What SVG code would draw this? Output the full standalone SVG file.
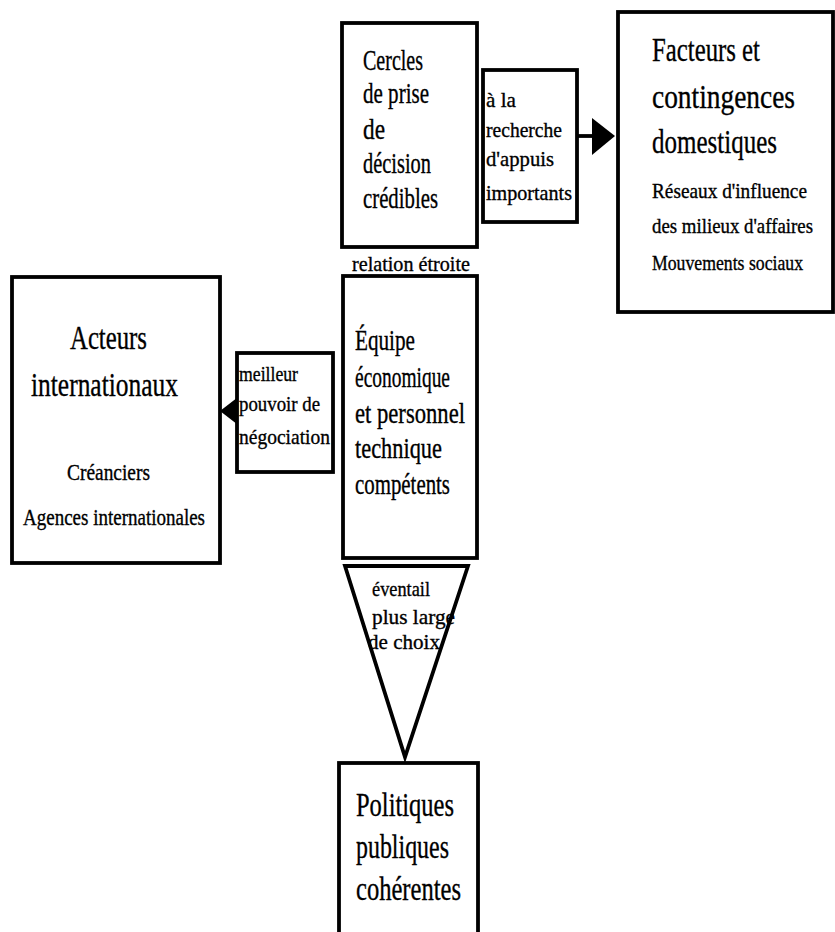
<svg xmlns="http://www.w3.org/2000/svg" width="835" height="932" viewBox="0 0 835 932">
<style>
.box{fill:#fff;stroke:#000;stroke-width:3.8}
.t{font-family:"Liberation Serif","DejaVu Serif",serif;fill:#000;stroke:#000;stroke-width:0.35}
.b{font-size:30px}
.l{font-size:34px}
.s{font-size:22px}
.m{font-size:23px}
.n{font-size:21px}
</style>
<rect width="835" height="932" fill="#fff"/>
<g id="connectors">
<line x1="577" y1="136" x2="594" y2="136" stroke="#000" stroke-width="3.8"/>
<polygon points="592,118 615,136 592,155" fill="#000"/>
<polygon points="220,411 242,394 242,428" fill="#000"/>
<polygon points="345,566 468,566 405,757" fill="none" stroke="#000" stroke-width="3.8" stroke-linejoin="miter"/>
</g>
<g id="cercles">
<rect class="box" x="342" y="23" width="135" height="224"/>
<text class="t b" x="363" y="70" textLength="60" lengthAdjust="spacingAndGlyphs">Cercles</text>
<text class="t b" x="363" y="103" textLength="66" lengthAdjust="spacingAndGlyphs">de prise</text>
<text class="t b" x="363" y="139" textLength="22" lengthAdjust="spacingAndGlyphs">de</text>
<text class="t b" x="363" y="173" textLength="68" lengthAdjust="spacingAndGlyphs">décision</text>
<text class="t b" x="363" y="208" textLength="75" lengthAdjust="spacingAndGlyphs">crédibles</text>
</g>
<g id="appuis">
<rect class="box" x="483" y="70" width="94" height="152"/>
<text class="t s" x="486" y="107" textLength="30" lengthAdjust="spacingAndGlyphs">à la</text>
<text class="t s" x="486" y="137" textLength="76" lengthAdjust="spacingAndGlyphs">recherche</text>
<text class="t s" x="486" y="166" textLength="68" lengthAdjust="spacingAndGlyphs">d'appuis</text>
<text class="t s" x="486" y="200" textLength="86" lengthAdjust="spacingAndGlyphs">importants</text>
</g>
<g id="facteurs">
<rect class="box" x="618" y="12" width="215" height="300"/>
<text class="t l" x="652" y="61" textLength="108" lengthAdjust="spacingAndGlyphs">Facteurs et</text>
<text class="t l" x="652" y="108" textLength="143" lengthAdjust="spacingAndGlyphs">contingences</text>
<text class="t l" x="652" y="153" textLength="125" lengthAdjust="spacingAndGlyphs">domestiques</text>
<text class="t n" x="652" y="198" textLength="155" lengthAdjust="spacingAndGlyphs">Réseaux d'influence</text>
<text class="t n" x="652" y="233" textLength="161" lengthAdjust="spacingAndGlyphs">des milieux d'affaires</text>
<text class="t n" x="652" y="270" textLength="151" lengthAdjust="spacingAndGlyphs">Mouvements sociaux</text>
</g>
<g id="relation">
<text class="t s" x="352" y="271" textLength="118" lengthAdjust="spacingAndGlyphs">relation étroite</text>
</g>
<g id="equipe">
<rect class="box" x="343" y="276" width="134" height="282"/>
<text class="t b" x="355" y="350" textLength="60" lengthAdjust="spacingAndGlyphs">Équipe</text>
<text class="t b" x="355" y="387" textLength="95" lengthAdjust="spacingAndGlyphs">économique</text>
<text class="t b" x="355" y="423" textLength="110" lengthAdjust="spacingAndGlyphs">et personnel</text>
<text class="t b" x="355" y="458" textLength="87" lengthAdjust="spacingAndGlyphs">technique</text>
<text class="t b" x="355" y="494" textLength="95" lengthAdjust="spacingAndGlyphs">compétents</text>
</g>
<g id="acteurs">
<rect class="box" x="12" y="277" width="208" height="286"/>
<text class="t l" x="70" y="349" textLength="77" lengthAdjust="spacingAndGlyphs">Acteurs</text>
<text class="t l" x="31" y="396" textLength="147" lengthAdjust="spacingAndGlyphs">internationaux</text>
<text class="t m" x="67" y="480" textLength="83" lengthAdjust="spacingAndGlyphs">Créanciers</text>
<text class="t m" x="23" y="525" textLength="182" lengthAdjust="spacingAndGlyphs">Agences internationales</text>
</g>
<g id="negociation">
<rect class="box" x="237" y="353" width="96" height="119"/>
<text class="t s" x="239" y="381" textLength="59" lengthAdjust="spacingAndGlyphs">meilleur</text>
<text class="t s" x="239" y="411" textLength="81" lengthAdjust="spacingAndGlyphs">pouvoir de</text>
<text class="t s" x="239" y="444" textLength="91" lengthAdjust="spacingAndGlyphs">négociation</text>
</g>
<g id="choix">
<text class="t s" x="372" y="596" textLength="58" lengthAdjust="spacingAndGlyphs">éventail</text>
<text class="t s" x="372" y="624" textLength="83" lengthAdjust="spacingAndGlyphs">plus large</text>
<text class="t s" x="368" y="649" textLength="72" lengthAdjust="spacingAndGlyphs">de choix</text>
</g>
<g id="politiques">
<rect class="box" x="339" y="763" width="139" height="190"/>
<text class="t l" x="356" y="816" textLength="98" lengthAdjust="spacingAndGlyphs">Politiques</text>
<text class="t l" x="356" y="858" textLength="93" lengthAdjust="spacingAndGlyphs">publiques</text>
<text class="t l" x="356" y="900" textLength="105" lengthAdjust="spacingAndGlyphs">cohérentes</text>
</g>
</svg>
